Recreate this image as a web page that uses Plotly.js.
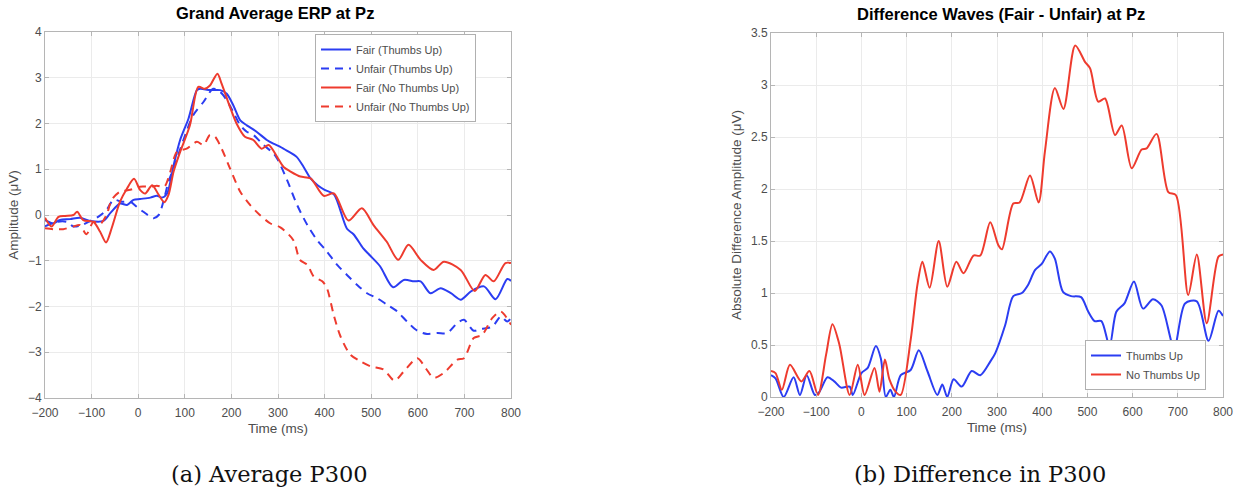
<!DOCTYPE html>
<html>
<head>
<meta charset="utf-8">
<script src="https://cdn.plot.ly/plotly-3.0.1.min.js"></script>
<style>html,body{margin:0;padding:0;background:#fff;}#chart{width:1242px;height:492px;}</style>
</head>
<body>
<div id="chart"></div>
<script>
// ---- Panel (a): Grand Average ERP at Pz ----
const fairTU_t = [-200,-182,-168,-146,-125,-103,-75,-60,-39,-24,-10,4,26,40,51,62,76,90,108,126,133,154,176,190,204,219,233,254,276,290,305,320,340,355,370,385,400,420,448,462,483,497,519,547,570,592,606,627,649,671,692,714,742,767,792,800];
const fairTU_v = [-0.11,-0.18,-0.11,-0.09,-0.06,-0.13,-0.13,0.04,0.25,0.22,0.33,0.35,0.38,0.42,0.38,0.47,1.09,1.64,2.11,2.73,2.76,2.73,2.73,2.65,2.4,2.07,1.96,1.82,1.64,1.56,1.49,1.4,1.27,1.05,0.8,0.65,0.55,0.45,-0.3,-0.42,-0.73,-0.88,-1.12,-1.58,-1.42,-1.45,-1.45,-1.71,-1.6,-1.71,-1.85,-1.67,-1.56,-1.84,-1.4,-1.44];

const unfairTU_t = [-200,-175,-153,-139,-121,-107,-86,-68,-53,-35,-17,-3,11,33,44,54,65,76,97,118,140,161,176,190,204,219,233,247,269,290,300,320,341,363,384,405,427,448,470,491,513,534,556,577,599,620,642,663,685,699,720,735,760,778,792,800];
const unfairTU_v = [-0.25,-0.15,-0.15,-0.25,-0.22,-0.15,-0.04,0.11,0.33,0.29,0.29,0.18,0.07,-0.07,0.0,0.29,0.73,1.02,1.64,2.18,2.47,2.76,2.69,2.51,2.25,1.96,1.82,1.75,1.53,1.35,1.2,0.75,0.22,-0.22,-0.55,-0.8,-1.09,-1.31,-1.53,-1.71,-1.82,-1.96,-2.11,-2.33,-2.53,-2.6,-2.58,-2.58,-2.36,-2.29,-2.53,-2.49,-2.44,-2.22,-2.33,-2.25];

const fairNTU_t = [-200,-186,-171,-157,-139,-131,-118,-96,-82,-69,-57,-39,-24,-9,4,15,30,44,56,65,76,90,111,129,143,154,170,179,197,211,229,247,265,280,298,312,327,348,370,398,420,451,480,505,533,558,580,606,634,656,692,722,745,763,788,800];
const fairNTU_v = [-0.06,-0.25,-0.04,-0.02,0.0,0.07,-0.11,-0.15,-0.36,-0.6,-0.29,0.29,0.58,0.79,0.55,0.47,0.65,0.44,0.28,0.44,0.95,1.38,1.96,2.8,2.76,2.83,3.09,2.87,2.36,2.0,1.71,1.64,1.45,1.53,1.27,1.05,0.95,0.84,0.8,0.42,0.47,-0.12,0.15,-0.22,-0.58,-0.98,-0.65,-0.98,-1.2,-1.02,-1.2,-1.66,-1.31,-1.45,-1.05,-1.05];

const unfairNTU_t = [-200,-182,-161,-139,-125,-111,-96,-82,-68,-57,-39,-17,4,26,40,56,69,83,104,126,140,154,165,179,197,219,240,261,283,305,333,347,363,377,395,405,420,434,455,477,499,527,550,570,599,617,634,656,685,699,720,738,760,778,800];
const unfairNTU_v = [-0.29,-0.31,-0.31,-0.25,-0.22,-0.42,-0.15,-0.2,0.0,0.33,0.51,0.55,0.62,0.62,0.64,0.62,0.95,1.38,1.45,1.6,1.53,1.75,1.71,1.45,1.02,0.51,0.22,0.0,-0.18,-0.27,-0.55,-0.98,-1.09,-1.35,-1.45,-1.6,-2.2,-2.65,-3.05,-3.2,-3.31,-3.38,-3.62,-3.42,-3.13,-3.35,-3.56,-3.45,-3.16,-3.13,-2.69,-2.62,-2.25,-2.11,-2.4];

// ---- Panel (b): Difference Waves (Fair - Unfair) at Pz ----
const diffTU_t = [-200,-190,-172,-150,-136,-121,-103,-93,-75,-60,-45,-26,-19,0,14,32,43,54,64,72,87,109,127,146,168,179,190,204,222,244,263,285,296,318,336,355,369,384,399,417,428,446,464,486,502,516,531,549,564,582,603,623,645,664,692,716,742,768,790,800];
const diffTU_v = [0.21,0.18,0.0,0.19,0.02,0.21,0.02,0.05,0.19,0.15,0.09,0.1,0.02,0.23,0.28,0.49,0.37,0.0,0.07,0.0,0.21,0.26,0.45,0.25,0.02,0.12,0.0,0.17,0.1,0.25,0.21,0.34,0.42,0.69,0.97,1.0,1.08,1.22,1.28,1.4,1.33,1.01,0.97,0.96,0.82,0.73,0.73,0.49,0.82,0.9,1.11,0.85,0.94,0.88,0.47,0.9,0.92,0.54,0.83,0.78];

const diffNTU_t = [-200,-190,-176,-158,-133,-115,-96,-78,-64,-49,-26,-8,7,29,40,52,62,76,87,109,124,135,151,171,190,210,226,248,263,285,303,311,336,350,373,392,406,428,447,473,495,506,524,539,561,576,598,620,631,653,679,696,723,742,764,790,800];
const diffNTU_v = [0.25,0.23,0.07,0.31,0.15,0.25,0.02,0.41,0.7,0.51,0.02,0.31,0.02,0.28,0.05,0.36,0.17,0.05,0.02,0.55,1.08,1.3,1.05,1.5,1.06,1.3,1.19,1.36,1.36,1.68,1.46,1.42,1.86,1.87,2.13,1.87,2.36,2.97,2.77,3.38,3.22,3.16,2.84,2.87,2.52,2.61,2.2,2.38,2.39,2.53,1.97,1.94,0.98,1.37,0.71,1.35,1.37];

const xTicks = [-200,-100,0,100,200,300,400,500,600,700,800];
const yTicksA = [-4,-3,-2,-1,0,1,2,3,4];
const yTicksB = [0,0.5,1,1.5,2,2.5,3,3.5];

const BLUE = '#2b3df2';
const RED = '#ee3b2e';
const FONT = 'Liberation Sans, Arial, sans-serif';
const SERIF = 'DejaVu Serif, Liberation Serif, serif';

function line(t, v, name, color, dash, xa, ya, legend) {
  return {x: t, y: v, name: name, type: 'scatter', mode: 'lines',
    line: {color: color, width: 2, dash: dash, shape: 'spline', smoothing: 0.8},
    xaxis: xa, yaxis: ya, legend: legend, hoverinfo: 'x+y'};
}

const traces = [
  line(fairTU_t, fairTU_v, 'Fair (Thumbs Up)', BLUE, 'solid', 'x', 'y', 'legend'),
  line(unfairTU_t, unfairTU_v, 'Unfair (Thumbs Up)', BLUE, '8px,6px', 'x', 'y', 'legend'),
  line(fairNTU_t, fairNTU_v, 'Fair (No Thumbs Up)', RED, 'solid', 'x', 'y', 'legend'),
  line(unfairNTU_t, unfairNTU_v, 'Unfair (No Thumbs Up)', RED, '8px,6px', 'x', 'y', 'legend'),
  line(diffTU_t, diffTU_v, 'Thumbs Up', BLUE, 'solid', 'x2', 'y2', 'legend2'),
  line(diffNTU_t, diffNTU_v, 'No Thumbs Up', RED, 'solid', 'x2', 'y2', 'legend2')
];

const W = 1242, H = 492;
const TICKFONT = {family: FONT, size: 12, color: '#4d4d4d'};
const TITLEFONT = {family: FONT, size: 13.5, color: '#4d4d4d'};
const axBase = {
  showgrid: true, gridcolor: '#ebebeb', gridwidth: 1,
  zeroline: false, showline: true, linecolor: '#b5b5b5', linewidth: 1, mirror: 'ticks',
  ticks: 'inside', ticklen: 4, tickcolor: '#b5b5b5',
  tickfont: TICKFONT, automargin: false, fixedrange: true
};

const layout = {
  width: W, height: H,
  margin: {l: 0, r: 0, t: 0, b: 0},
  paper_bgcolor: '#ffffff', plot_bgcolor: '#ffffff',
  showlegend: true,
  xaxis: Object.assign({}, axBase, {
    domain: [45 / W, 511 / W], range: [-200, 800], tickvals: xTicks, anchor: 'y',
    ticklabelstandoff: 4,
    title: {text: 'Time (ms)', font: TITLEFONT, standoff: 4}
  }),
  yaxis: Object.assign({}, axBase, {
    domain: [1 - 398 / H, 1 - 32 / H], range: [-4, 4], tickvals: yTicksA, anchor: 'x',
    title: {text: 'Amplitude (μV)', font: TITLEFONT, standoff: 6}
  }),
  xaxis2: Object.assign({}, axBase, {
    domain: [771 / W, 1223 / W], range: [-200, 800], tickvals: xTicks, anchor: 'y2',
    ticklabelstandoff: 4,
    title: {text: 'Time (ms)', font: TITLEFONT, standoff: 4}
  }),
  yaxis2: Object.assign({}, axBase, {
    domain: [1 - 397 / H, 1 - 33 / H], range: [0, 3.5], tickvals: yTicksB,
    ticktext: yTicksB.map(String), anchor: 'x2',
    title: {text: 'Absolute Difference Amplitude (μV)', font: TITLEFONT, standoff: 6}
  }),
  legend: {
    x: 476 / W, y: 1 - 34 / H, xanchor: 'right', yanchor: 'top',
    bgcolor: '#ffffff', bordercolor: '#b0b0b0', borderwidth: 1,
    font: {family: FONT, size: 11, color: '#4d4d4d'},
    tracegroupgap: 0, itemwidth: 30
  },
  legend2: {
    x: 1206 / W, y: 1 - 390 / H, xanchor: 'right', yanchor: 'bottom',
    bgcolor: '#ffffff', bordercolor: '#b0b0b0', borderwidth: 1,
    font: {family: FONT, size: 11, color: '#4d4d4d'},
    tracegroupgap: 0, itemwidth: 30
  },
  annotations: [
    {text: '<b>Grand Average ERP at Pz</b>', xref: 'paper', yref: 'paper', x: 275 / W, y: 1 - 13 / H,
     showarrow: false, xanchor: 'center', yanchor: 'middle', font: {family: FONT, size: 16.5, color: '#000'}},
    {text: '<b>Difference Waves (Fair - Unfair) at Pz</b>', xref: 'paper', yref: 'paper', x: 1001 / W, y: 1 - 14 / H,
     showarrow: false, xanchor: 'center', yanchor: 'middle', font: {family: FONT, size: 16.5, color: '#000'}},
    {text: '(a) Average P300', xref: 'paper', yref: 'paper', x: 269 / W, y: 1 - 474 / H,
     showarrow: false, xanchor: 'center', yanchor: 'middle', font: {family: SERIF, size: 22.5, color: '#111'}},
    {text: '(b) Difference in P300', xref: 'paper', yref: 'paper', x: 980 / W, y: 1 - 474 / H,
     showarrow: false, xanchor: 'center', yanchor: 'middle', font: {family: SERIF, size: 22.5, color: '#111'}}
  ]
};

Plotly.newPlot('chart', traces, layout, {displayModeBar: false, staticPlot: true});
</script>
</body>
</html>
